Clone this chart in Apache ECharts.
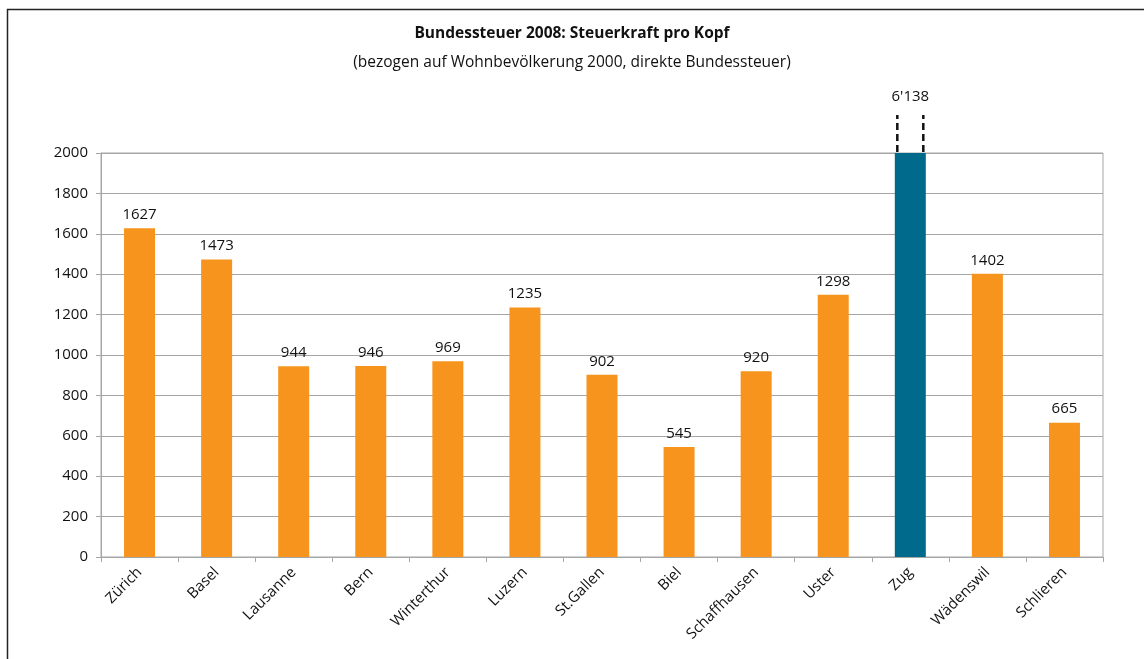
<!DOCTYPE html>
<html><head><meta charset="utf-8">
<script src="https://cdn.jsdelivr.net/npm/echarts@6/dist/echarts.min.js"></script>
<style>html,body{margin:0;padding:0;background:#fff}#c{width:1144px;height:659px}</style>
</head><body><div id="c"></div>
<script>
const categories = ['Zürich','Basel','Lausanne','Bern','Winterthur','Luzern','St.Gallen','Biel','Schaffhausen','Uster','Zug','Wädenswil','Schlieren'];
const values = [1627,1473,944,946,969,1235,902,545,920,1298,6138,1402,665];
const highlight = ['Zug'];
const yTicks = [0,200,400,600,800,1000,1200,1400,1600,1800,2000];
const yMax = 2000;

const FONT = '"Open Sans", "DejaVu Sans", sans-serif';
const ORANGE = '#F7941D', TEAL = '#006A8C';

function fmt(v){ return v > yMax ? String(v).replace(/\B(?=(\d{3})+(?!\d))/g, "'") : String(v); }

const chart = echarts.init(document.getElementById('c'));
chart.setOption({
  animation: false,
  backgroundColor: '#fff',
  textStyle: { fontFamily: FONT },
  title: [
    { text: 'Bundessteuer 2008: Steuerkraft pro Kopf', left: 'center', top: 21,
      textStyle: { fontFamily: FONT, fontSize: 15.5, fontWeight: 'bold', color: '#111' } },
    { text: '(bezogen auf Wohnbevölkerung 2000, direkte Bundessteuer)', left: 'center', top: 50,
      textStyle: { fontFamily: FONT, fontSize: 15.5, fontWeight: 'normal', color: '#111' } }
  ],
  graphic: [{ type: 'rect', shape: { x: 7.5, y: 9.5, width: 1300, height: 800 },
              style: { fill: null, stroke: '#222', lineWidth: 1.5 }, silent: true }],
  grid: { left: 101, right: 41, top: 153, bottom: 102, show: true, borderColor: '#a6a6a6', borderWidth: 1 },
  xAxis: {
    type: 'category', data: categories,
    axisLine: { lineStyle: { color: '#a6a6a6' } },
    axisTick: { show: true, length: 5, lineStyle: { color: '#a6a6a6' } },
    axisLabel: { rotate: 45, fontSize: 15, color: '#111', margin: 13, interval: 0, fontFamily: FONT }
  },
  yAxis: {
    type: 'value', min: 0, max: yMax, interval: yTicks[1] - yTicks[0],
    axisLine: { show: true, lineStyle: { color: '#a6a6a6' } },
    axisTick: { show: true, length: 5, lineStyle: { color: '#a6a6a6' } },
    axisLabel: { fontSize: 15, color: '#111', margin: 13, fontFamily: FONT, formatter: v => String(v) },
    splitLine: { lineStyle: { color: '#a6a6a6', width: 1 } }
  },
  series: [
    {
      type: 'bar', barWidth: 31,
      data: values.map((v, i) => ({
        value: Math.min(v, yMax),
        itemStyle: { color: highlight.includes(categories[i]) ? TEAL : ORANGE },
        label: { show: v <= yMax }
      })),
      label: { position: 'top', distance: 6, fontSize: 15, color: '#111', fontFamily: FONT,
               formatter: p => fmt(values[p.dataIndex]) }
    },
    {
      type: 'custom',
      data: values.map((v, i) => [i, v]),
      renderItem: function (params, api) {
        const i = api.value(0), v = api.value(1);
        if (v <= yMax) return null;
        const top = api.coord([i, yMax]);
        const x = top[0], y = top[1];
        const half = 13;
        const ls = { stroke: '#111', lineWidth: 2.5, lineDash: [7, 4] };
        return { type: 'group', children: [
          { type: 'line', shape: { x1: x - half, y1: y - 1, x2: x - half, y2: y - 38 }, style: ls },
          { type: 'line', shape: { x1: x + half, y1: y - 1, x2: x + half, y2: y - 38 }, style: ls },
          { type: 'text', style: { text: fmt(v), x: x, y: y - 56, align: 'center', verticalAlign: 'middle',
              font: '15px ' + FONT, fill: '#111' } }
        ]};
      },
      z: 5
    }
  ]
});
</script></body></html>
